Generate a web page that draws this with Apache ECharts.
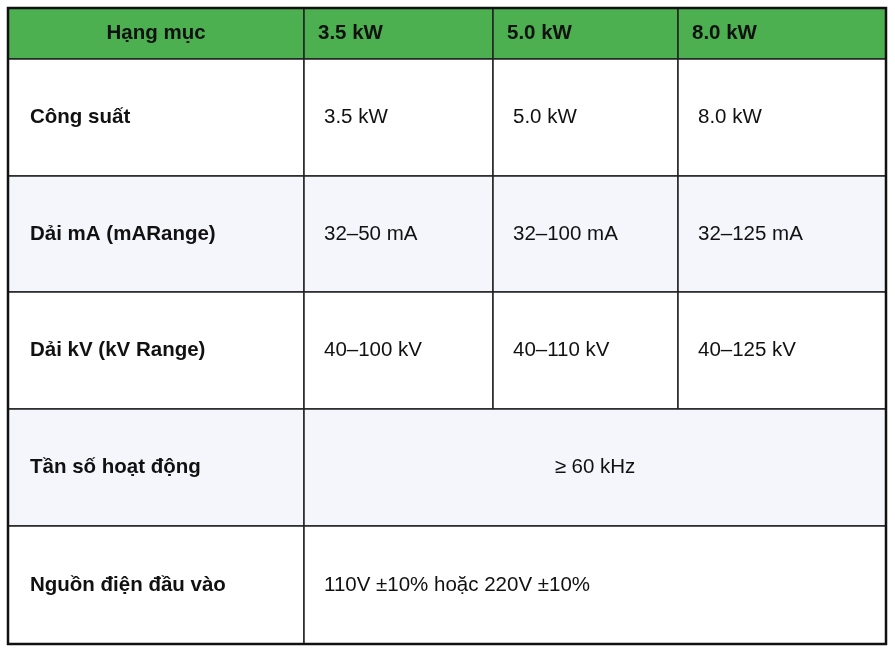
<!DOCTYPE html>
<html lang="vi">
<head>
<meta charset="UTF-8">
<title>Bảng thông số</title>
<script src="https://cdn.jsdelivr.net/npm/echarts@6/dist/echarts.min.js"></script>
<style>html,body{margin:0;background:#fff}#chart{width:895px;height:652px}</style>
</head>
<body>
<div id="chart"></div>
<script>
// table edges, in page pixels
const colEdges = [8, 304, 493, 678, 886];
const rowEdges = [8, 59, 176, 292, 409, 526, 644];

const headers = ['Hạng mục', '3.5 kW', '5.0 kW', '8.0 kW'];
const rowLabels = ['Công suất', 'Dải mA (mARange)', 'Dải kV (kV Range)', 'Tần số hoạt động', 'Nguồn điện đầu vào'];
const power = ['3.5 kW', '5.0 kW', '8.0 kW'];
const maRange = ['32–50 mA', '32–100 mA', '32–125 mA'];
const kvRange = ['40–100 kV', '40–110 kV', '40–125 kV'];
const frequency = '≥ 60 kHz';
const inputPower = '110V ±10% hoặc 220V ±10%';

// cell list: [row, firstCol, lastCol+1, text, kind]
const cells = [];
headers.forEach((h, i) => cells.push([0, i, i + 1, h, i === 0 ? 'headC' : 'head']));
rowLabels.forEach((l, i) => cells.push([i + 1, 0, 1, l, 'label']));
[power, maRange, kvRange].forEach((arr, r) =>
  arr.forEach((v, i) => cells.push([r + 1, i + 1, i + 2, v, 'val'])));
cells.push([4, 1, 4, frequency, 'valC']);
cells.push([5, 1, 4, inputPower, 'val']);

const chart = echarts.init(document.getElementById('chart'));
chart.setOption({
  animation: false,
  grid: { left: 0, right: 0, top: 0, bottom: 0 },
  xAxis: { type: 'value', min: 0, max: 895, show: false },
  yAxis: { type: 'value', min: 0, max: 652, inverse: true, show: false },
  series: [{
    type: 'custom',
    data: cells.map(c => [colEdges[c[1]], colEdges[c[2]], rowEdges[c[0]], rowEdges[c[0] + 1]]),
    renderItem: function (params, api) {
      const c = cells[params.dataIndex];
      const p0 = api.coord([api.value(0), api.value(2)]);
      const p1 = api.coord([api.value(1), api.value(3)]);
      const w = p1[0] - p0[0], h = p1[1] - p0[1];
      const kind = c[4];
      let fill = '#ffffff';
      if (c[0] === 0) fill = '#4caf50';
      else if (c[0] % 2 === 0) fill = '#f5f6fc';
      const centered = kind === 'headC' || kind === 'valC';
      const pad = kind === 'label' ? 22 : (kind === 'head' ? 14 : 20);
      return {
        type: 'group',
        children: [{
          type: 'rect',
          shape: { x: p0[0], y: p0[1], width: w, height: h },
          style: { fill: fill, stroke: '#222', lineWidth: 1.5 }
        }, {
          type: 'text',
          style: {
            text: c[3],
            x: centered ? p0[0] + w / 2 : p0[0] + pad,
            y: p0[1] + h / 2,
            align: centered ? 'center' : 'left',
            verticalAlign: 'middle',
            fill: '#111',
            font: (kind === 'val' || kind === 'valC' ? 'normal ' : 'bold ') +
              '20.5px "Liberation Sans", Arial, sans-serif'
          }
        }]
      };
    }
  }]
});
// thicker outer frame
chart.setOption({
  graphic: [{
    type: 'rect',
    shape: { x: colEdges[0], y: rowEdges[0], width: colEdges[4] - colEdges[0], height: rowEdges[6] - rowEdges[0] },
    style: { fill: 'none', stroke: '#111', lineWidth: 2.5 },
    z: 10
  }]
});
</script>
</body>
</html>
